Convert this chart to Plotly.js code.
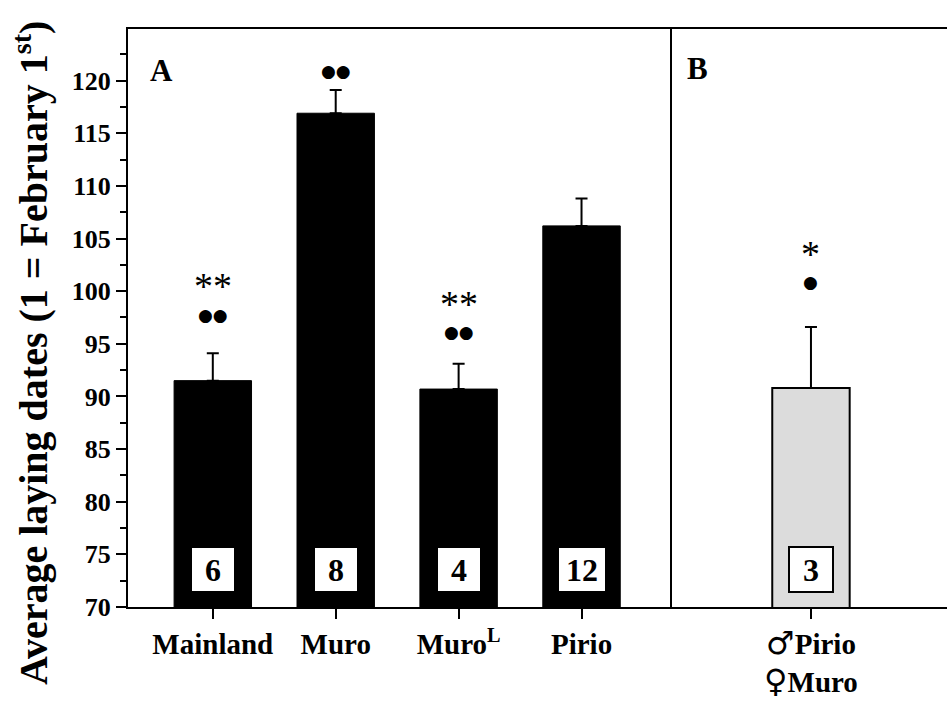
<!DOCTYPE html>
<html><head><meta charset="utf-8">
<script src="https://cdn.plot.ly/plotly-3.0.1.min.js"></script>
<style>body{margin:0;background:#fff}#c{width:947px;height:703px}</style>
</head><body><div id="c"></div>
<script>
// Panel A
const categoriesA = ["Mainland", "Muro", "Muro<sup>L</sup>", "Pirio"];
const meansA = [91.5, 116.9, 90.7, 106.2];
const errorsA = [2.6, 2.2, 2.4, 2.6];
const sampleSizesA = ["6", "8", "4", "12"];
const starsA = ["**", "", "**", ""];
const starsYA = [100.9, null, 99.2, null];
const dotsA = ["●●", "●●", "●●", ""];
const dotsYA = [97.7, 120.9, 96.1, null];
// Panel B
const categoriesB = ['<span style="font-family:DejaVu Sans;font-size:32px;font-weight:normal">♂</span>Pirio<br><span style="font-family:DejaVu Sans;font-size:32px;font-weight:normal">♀</span>Muro'];
const meansB = [90.8];
const errorsB = [5.8];
const sampleSizesB = ["3"];
const starsB = ["*"];
const starsYB = [103.9];
const dotsB = ["●"];
const dotsYB = [100.9];

const serif = '"Liberation Serif", "Times New Roman", serif';

const traces = [
  {type: 'bar', x: categoriesA, y: meansA, width: 0.63, xaxis: 'x', yaxis: 'y',
   marker: {color: '#000', line: {color: '#000', width: 1}},
   error_y: {type: 'data', symmetric: false, array: errorsA, arrayminus: errorsA.map(() => 0), color: '#000', thickness: 2, width: 6},
   hoverinfo: 'skip'},
  {type: 'bar', x: categoriesB, y: meansB, width: 0.63, xaxis: 'x2', yaxis: 'y',
   marker: {color: '#dcdcdc', line: {color: '#000', width: 2}},
   error_y: {type: 'data', symmetric: false, array: errorsB, arrayminus: errorsB.map(() => 0), color: '#000', thickness: 2, width: 6},
   hoverinfo: 'skip'}
];

const annotations = [];
function addAnnots(cats, ns, stars, starsY, dots, dotsY, xr) {
  cats.forEach((c, i) => {
    annotations.push({x: c, y: 73.6, xref: xr, yref: 'y', text: '<b>' + ns[i] + '</b>', showarrow: false,
      font: {family: serif, size: 32, color: '#000'}, bgcolor: '#fff', bordercolor: '#000', borderwidth: 2,
      width: ns[i].length > 1 ? 46 : 42, height: 43, borderpad: 0});
    if (dots[i]) annotations.push({x: c, y: dotsY[i], xref: xr, yref: 'y', text: dots[i], showarrow: false,
      font: {family: 'DejaVu Sans', size: 17, color: '#000'}});
    if (stars[i]) annotations.push({x: c, y: starsY[i], xref: xr, yref: 'y', yshift: -4, text: stars[i], showarrow: false,
      font: {family: serif, size: 38, color: '#000'}});
  });
}
addAnnots(categoriesA, sampleSizesA, starsA, starsYA, dotsA, dotsYA, 'x');
addAnnots(categoriesB, sampleSizesB, starsB, starsYB, dotsB, dotsYB, 'x2');

annotations.push({xref: 'paper', yref: 'paper', x: 0.024, y: 0.929, xanchor: 'left', yanchor: 'middle', text: '<b>A</b>', showarrow: false, font: {family: serif, size: 31, color: '#000'}});
annotations.push({xref: 'paper', yref: 'paper', x: 0.68, y: 0.932, xanchor: 'left', yanchor: 'middle', text: '<b>B</b>', showarrow: false, font: {family: serif, size: 31, color: '#000'}});
annotations.push({xref: 'paper', yref: 'paper', x: -0.118, y: 0.44, xanchor: 'center', yanchor: 'middle', textangle: -90,
  text: '<b>Average laying dates (1 = February 1<sup>st</sup>)</b>', showarrow: false, font: {family: serif, size: 40, color: '#000'}});

const layout = {
  width: 947, height: 703,
  margin: {l: 128, r: 0, t: 29, b: 96},
  paper_bgcolor: '#fff', plot_bgcolor: '#fff',
  showlegend: false,
  font: {family: serif, color: '#000'},
  xaxis: {domain: [0, 0.6618], range: [-0.69, 3.72], type: 'category', showline: true, linecolor: '#000', linewidth: 2, mirror: true,
    ticks: 'outside', ticklen: 10, tickwidth: 2, tickcolor: '#000', showgrid: false, zeroline: false,
    tickfont: {family: serif, size: 29, color: '#000', weight: 'bold'}, fixedrange: true},
  xaxis2: {domain: [0.6618, 1], range: [-1.147, 1.107], type: 'category', anchor: 'y', showline: true, linecolor: '#000', linewidth: 2, mirror: true,
    ticks: 'outside', ticklen: 10, tickwidth: 2, tickcolor: '#000', showgrid: false, zeroline: false,
    tickfont: {family: serif, size: 29, color: '#000', weight: 'bold'}, fixedrange: true},
  yaxis: {range: [70, 124.9], tickvals: [70,75,80,85,90,95,100,105,110,115,120], showline: true, linecolor: '#000', linewidth: 2, mirror: true,
    ticks: 'outside', ticklen: 10, tickwidth: 2, tickcolor: '#000', showgrid: false, zeroline: false,
    minor: {dtick: 2.5, tick0: 70, ticks: 'outside', ticklen: 6, tickwidth: 2, tickcolor: '#000', showgrid: false},
    tickfont: {family: serif, size: 26, color: '#000', weight: 'bold'}, fixedrange: true},
  annotations: annotations
};
Plotly.newPlot('c', traces, layout, {displayModeBar: false, staticPlot: true});
</script></body></html>
